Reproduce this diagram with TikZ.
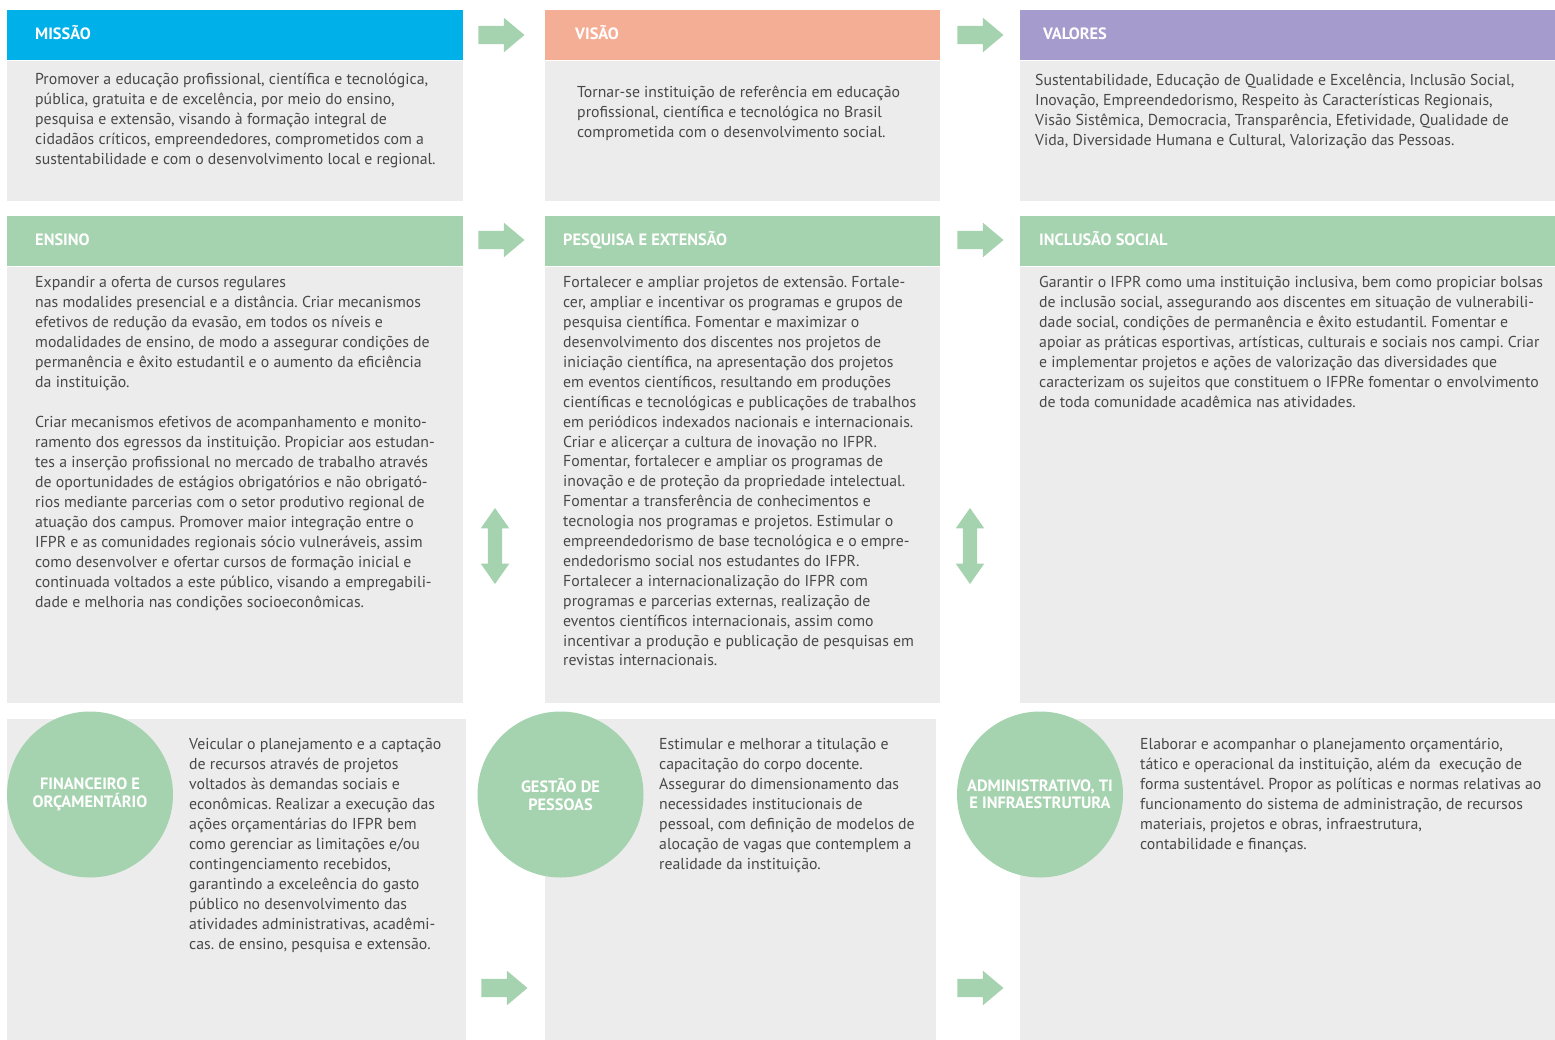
\documentclass[tikz,border=0pt]{standalone}
\usepackage{fontspec}
\setmainfont{PT Sans}
\usetikzlibrary{positioning,calc,shapes.arrows}
\definecolor{cm}{RGB}{0,176,232}
\definecolor{cv}{RGB}{245,174,150}
\definecolor{cl}{RGB}{165,155,205}
\definecolor{cg}{RGB}{166,211,175}
\definecolor{bg}{RGB}{236,236,236}
\definecolor{tx}{RGB}{72,72,72}
\frenchspacing
\newcommand\bodyfont{\fontsize{15.8}{20}\selectfont}
\newcommand\capfont{\fontsize{16.4}{17.5}\selectfont\bfseries}
\tikzset{
  hd/.style={rectangle,fill=#1,inner sep=0pt,minimum height=50pt,anchor=north west},
  bd/.style={rectangle,fill=bg,inner sep=0pt},
  hl/.style={anchor=west,inner sep=0pt,text=white,font=\capfont,
    text height=9pt,text depth=0pt},
  tb/.style={anchor=north west,inner sep=0pt,align=left,text=tx,font=\bodyfont,
    execute at begin node=\strut},
  cr/.style={circle,fill=cg,minimum size=166pt,inner sep=0pt,align=center,
    text=white,font=\capfont},
  ra/.style={single arrow,fill=cg,inner sep=0pt,inner ysep=9pt,minimum height=46pt,
    single arrow head extend=8pt,single arrow tip angle=80},
  va/.style={double arrow,fill=cg,rotate=90,inner sep=0pt,inner ysep=7pt,
    minimum height=76pt,double arrow head extend=7pt,double arrow tip angle=70},
}
\begin{document}
\begin{tikzpicture}[x=1pt,y=-1pt]
  \useasboundingbox (0,0) rectangle (1555,1040);
  % linha 1
  \node[hd=cm,minimum width=456pt] (missaoH) at (7,10) {};
  \node[bd,minimum width=456pt,minimum height=140pt,below=0pt of missaoH] (missaoB) {};
  \node[hd=cv,minimum width=395pt] (visaoH) at (545,10) {};
  \node[bd,minimum width=395pt,minimum height=140pt,below=0pt of visaoH] (visaoB) {};
  \node[hd=cl,minimum width=535pt] (valoresH) at (1020,10) {};
  \node[bd,minimum width=535pt,minimum height=140pt,below=0pt of valoresH] (valoresB) {};
  \node[hl] (missaoL) at ($(missaoH.west)+(28,0)$) {MISSÃO};
  \node[hl] (visaoL) at ($(visaoH.west)+(30,0)$) {VISÃO};
  \node[hl] (valoresL) at ($(valoresH.west)+(23,0)$) {VALORES};
  \node[tb] (missaoT) at ($(missaoB.north west)+(28,13)$) {Promover a educação profissional, científica e tecnológica,\\
    pública, gratuita e de excelência, por meio do ensino,\\
    pesquisa e extensão, visando à formação integral de\\
    cidadãos críticos, empreendedores, comprometidos com a\\
    sustentabilidade e com o desenvolvimento local e regional.};
  \node[tb] (visaoT) at ($(visaoB.north west)+(32,25)$) {Tornar-se instituição de referência em educação\\
    profissional, científica e tecnológica no Brasil\\
    comprometida com o desenvolvimento social.};
  \node[tb] (valoresT) at ($(valoresB.north west)+(15,13)$) {Sustentabilidade, Educação de Qualidade e Excelência, Inclusão Social,\\
    Inovação, Empreendedorismo, Respeito às Características Regionais,\\
    Visão Sistêmica, Democracia, Transparência, Efetividade, Qualidade de\\
    Vida, Diversidade Humana e Cultural, Valorização das Pessoas.};
  % linha 2
  \node[hd=cg,minimum width=456pt] (ensinoH) at (7,216) {};
  \node[bd,minimum width=456pt,minimum height=436pt,below=0pt of ensinoH] (ensinoB) {};
  \node[hd=cg,minimum width=395pt] (pesqH) at (545,216) {};
  \node[bd,minimum width=395pt,minimum height=436pt,below=0pt of pesqH] (pesqB) {};
  \node[hd=cg,minimum width=535pt] (inclH) at (1020,216) {};
  \node[bd,minimum width=535pt,minimum height=436pt,below=0pt of inclH] (inclB) {};
  \node[hl] (ensinoL) at ($(ensinoH.west)+(28,0)$) {ENSINO};
  \node[hl] (pesqL) at ($(pesqH.west)+(18,0)$) {PESQUISA E EXTENSÃO};
  \node[hl] (inclL) at ($(inclH.west)+(19,0)$) {INCLUSÃO SOCIAL};
  \node[tb] (ensinoT) at ($(ensinoB.north west)+(28,10)$) {Expandir a oferta de cursos regulares\\
    nas modalides presencial e a distância. Criar mecanismos\\
    efetivos de redução da evasão, em todos os níveis e\\
    modalidades de ensino, de modo a assegurar condições de\\
    permanência e êxito estudantil e o aumento da eficiência\\
    da instituição.\\[19.5pt]
    Criar mecanismos efetivos de acompanhamento e monito-\\
    ramento dos egressos da instituição. Propiciar aos estudan-\\
    tes a inserção profissional no mercado de trabalho através\\
    de oportunidades de estágios obrigatórios e não obrigató-\\
    rios mediante parcerias com o setor produtivo regional de\\
    atuação dos campus. Promover maior integração entre o\\
    IFPR e as comunidades regionais sócio vulneráveis, assim\\
    como desenvolver e ofertar cursos de formação inicial e\\
    continuada voltados a este público, visando a empregabili-\\
    dade e melhoria nas condições socioeconômicas.};
  \node[tb,font=\fontsize{15.8}{19.9}\selectfont] (pesqT) at ($(pesqB.north west)+(18,10)$) {Fortalecer e ampliar projetos de extensão. Fortale-\\
    cer, ampliar e incentivar os programas e grupos de\\
    pesquisa científica. Fomentar e maximizar o\\
    desenvolvimento dos discentes nos projetos de\\
    iniciação científica, na apresentação dos projetos\\
    em eventos científicos, resultando em produções\\
    científicas e tecnológicas e publicações de trabalhos\\
    em periódicos indexados nacionais e internacionais.\\
    Criar e alicerçar a cultura de inovação no IFPR.\\
    Fomentar, fortalecer e ampliar os programas de\\
    inovação e de proteção da propriedade intelectual.\\
    Fomentar a transferência de conhecimentos e\\
    tecnologia nos programas e projetos. Estimular o\\
    empreendedorismo de base tecnológica e o empre-\\
    endedorismo social nos estudantes do IFPR.\\
    Fortalecer a internacionalização do IFPR com\\
    programas e parcerias externas, realização de\\
    eventos científicos internacionais, assim como\\
    incentivar a produção e publicação de pesquisas em\\
    revistas internacionais.};
  \node[tb] (inclT) at ($(inclB.north west)+(19,10)$) {Garantir o IFPR como uma instituição inclusiva, bem como propiciar bolsas\\
    de inclusão social, assegurando aos discentes em situação de vulnerabili-\\
    dade social, condições de permanência e êxito estudantil. Fomentar e\\
    apoiar as práticas esportivas, artísticas, culturais e sociais nos campi. Criar\\
    e implementar projetos e ações de valorização das diversidades que\\
    caracterizam os sujeitos que constituem o IFPRe fomentar o envolvimento\\
    de toda comunidade acadêmica nas atividades.};
  % linha 3
  \node[bd,minimum width=459pt,minimum height=321pt,anchor=north west] (finB) at (7,719) {};
  \node[bd,minimum width=391pt,minimum height=321pt,anchor=north west] (gestB) at (545,719) {};
  \node[bd,minimum width=535pt,minimum height=321pt,anchor=north west] (admB) at (1020,719) {};
  \node[cr] (finC) at (90,794.5) {FINANCEIRO E\\ORÇAMENTÁRIO};
  \node[cr] (gestC) at (560.5,794.5) {GESTÃO DE\\PESSOAS};
  \node[cr] (admC) at (1040,794.5) {ADMINISTRATIVO, TI\\E INFRAESTRUTURA};
  \node[tb] (finT) at ($(finB.north west)+(182,19)$) {Veicular o planejamento e a captação\\
    de recursos através de projetos\\
    voltados às demandas sociais e\\
    econômicas. Realizar a execução das\\
    ações orçamentárias do IFPR bem\\
    como gerenciar as limitações e/ou\\
    contingenciamento recebidos,\\
    garantindo a exceleência do gasto\\
    público no desenvolvimento das\\
    atividades administrativas, acadêmi-\\
    cas. de ensino, pesquisa e extensão.};
  \node[tb] (gestT) at ($(gestB.north west)+(114,19)$) {Estimular e melhorar a titulação e\\
    capacitação do corpo docente.\\
    Assegurar do dimensionamento das\\
    necessidades institucionais de\\
    pessoal, com definição de modelos de\\
    alocação de vagas que contemplem a\\
    realidade da instituição.};
  \node[tb] (admT) at ($(admB.north west)+(120,19)$) {Elaborar e acompanhar o planejamento orçamentário,\\
    tático e operacional da instituição, além da~ execução de\\
    forma sustentável. Propor as políticas e normas relativas ao\\
    funcionamento do sistema de administração, de recursos\\
    materiais, projetos e obras, infraestrutura,\\
    contabilidade e finanças.};
  % setas
  \node[ra] (s1) at (496,35) {};
  \node[ra] (s2) at (975,35) {};
  \node[ra] (s3) at (496,240) {};
  \node[ra] (s4) at (975,240) {};
  \node[va] (s5) at (495,546) {};
  \node[va] (s6) at (970,546) {};
  \node[ra] (s7) at (499,988) {};
  \node[ra] (s8) at (975,988) {};
\end{tikzpicture}
\end{document}
